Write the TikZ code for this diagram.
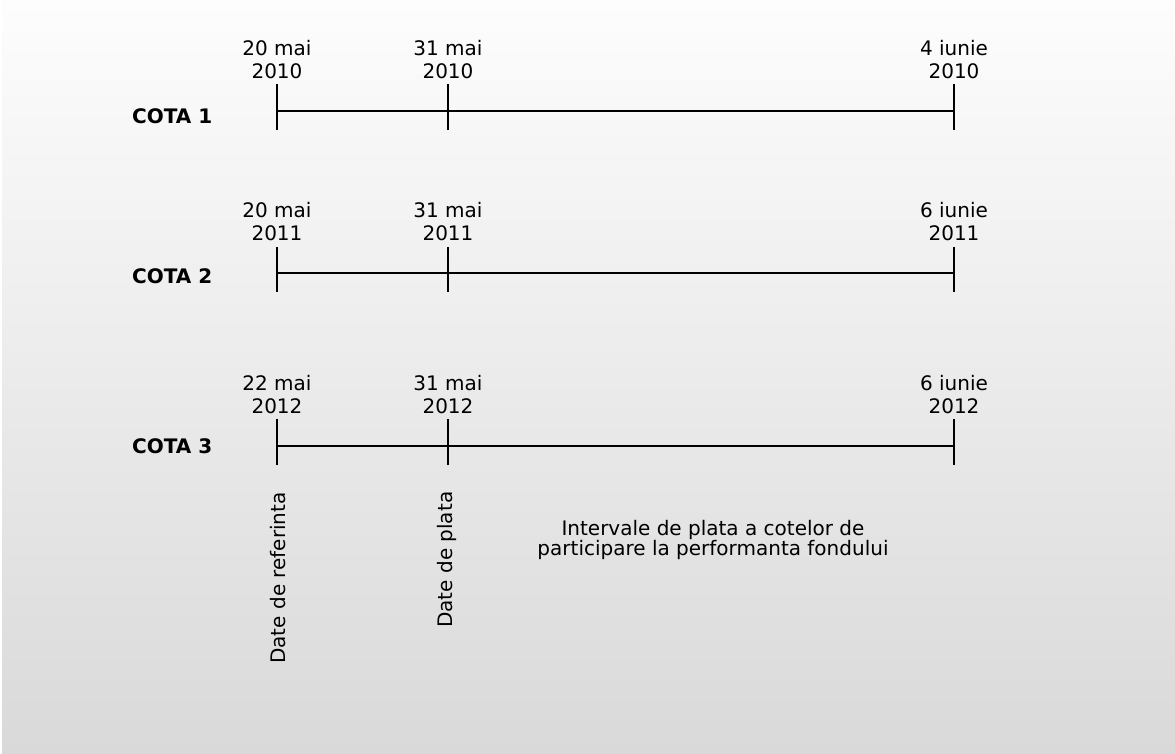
\documentclass[tikz,border=0pt]{standalone}
\usepackage{fontspec}
\setmainfont{DejaVu Sans}
\definecolor{bgtop}{HTML}{FDFDFD}
\definecolor{bgbot}{HTML}{D9D9D9}
\tikzset{
  datelbl/.style={align=center, anchor=base, inner sep=0pt, font=\fontsize{20}{23}\selectfont},
  cotalbl/.style={anchor=base west, inner sep=0pt, font=\fontsize{20}{23}\selectfont\bfseries},
  vlbl/.style={rotate=90, anchor=base west, inner sep=0pt, font=\fontsize{20}{23}\selectfont},
  axisline/.style={line width=2pt, black},
}
\begin{document}
\begin{tikzpicture}[x=1pt, y=-1pt]
\useasboundingbox (0,0) rectangle (1175,753);
\shade[top color=bgtop, bottom color=bgbot] (2,0) rectangle (1175,753);
% COTA 1
\node[cotalbl] (cota1) at (132,123) {COTA 1};
\coordinate (a1) at (277,111);
\coordinate (b1) at (448,111);
\coordinate (c1) at (954,111);
\node[datelbl] (da1) at (277,78) {20 mai\\2010};
\node[datelbl] (db1) at (448,78) {31 mai\\2010};
\node[datelbl] (dc1) at (954,78) {4 iunie\\2010};
\draw[axisline] (a1) -- (c1);
\draw[axisline] ([yshift=-19pt]a1) -- ([yshift=27pt]a1);
\draw[axisline] ([yshift=-19pt]b1) -- ([yshift=27pt]b1);
\draw[axisline] ([yshift=-19pt]c1) -- ([yshift=27pt]c1);
% COTA 2
\node[cotalbl] (cota2) at (132,283) {COTA 2};
\coordinate (a2) at (277,273);
\coordinate (b2) at (448,273);
\coordinate (c2) at (954,273);
\node[datelbl] (da2) at (277,240) {20 mai\\2011};
\node[datelbl] (db2) at (448,240) {31 mai\\2011};
\node[datelbl] (dc2) at (954,240) {6 iunie\\2011};
\draw[axisline] (a2) -- (c2);
\draw[axisline] ([yshift=-19pt]a2) -- ([yshift=26pt]a2);
\draw[axisline] ([yshift=-19pt]b2) -- ([yshift=26pt]b2);
\draw[axisline] ([yshift=-19pt]c2) -- ([yshift=26pt]c2);
% COTA 3
\node[cotalbl] (cota3) at (132,453) {COTA 3};
\coordinate (a3) at (277,446);
\coordinate (b3) at (448,446);
\coordinate (c3) at (954,446);
\node[datelbl] (da3) at (277,413) {22 mai\\2012};
\node[datelbl] (db3) at (448,413) {31 mai\\2012};
\node[datelbl] (dc3) at (954,413) {6 iunie\\2012};
\draw[axisline] (a3) -- (c3);
\draw[axisline] ([yshift=-19pt]a3) -- ([yshift=27pt]a3);
\draw[axisline] ([yshift=-19pt]b3) -- ([yshift=27pt]b3);
\draw[axisline] ([yshift=-19pt]c3) -- ([yshift=27pt]c3);
% legend
\node[vlbl] (ref) at (285,664) {Date de referinta};
\node[vlbl] (plata) at (452,628) {Date de plata};
\node[datelbl, font=\fontsize{20}{20}\selectfont] (interv) at (713,555) {Intervale de plata a cotelor de\\participare la performanta fondului};
\end{tikzpicture}
\end{document}
